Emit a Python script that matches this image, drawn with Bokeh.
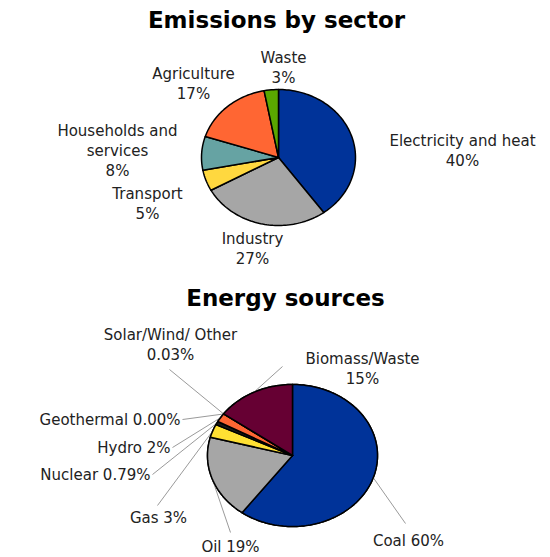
import numpy as np
from bokeh.plotting import figure
from bokeh.models import Range1d, ColumnDataSource
from bokeh.embed import file_html
from bokeh.resources import INLINE
from bokeh.core.properties import value

# ---------------- data ----------------
sectors = ["Electricity and heat", "Industry", "Transport",
           "Households and services", "Agriculture", "Waste"]
sector_values = [40, 27, 5, 8, 17, 3]
sector_colors = ["#003399", "#A6A6A6", "#FFD83F", "#66A3A3", "#FF6633", "#5AA800"]

sources = ["Coal", "Oil", "Gas", "Nuclear", "Hydro", "Geothermal",
           "Solar/Wind/ Other", "Biomass/Waste"]
source_values = [60, 19, 3, 0.79, 2, 0.00, 0.03, 15]
source_pct_labels = ["60%", "19%", "3%", "0.79%", "2%", "0.00%", "0.03%", "15%"]
source_colors = ["#003399", "#A6A6A6", "#FFE033", "#1A1A1A", "#FF6633",
                 "#FFFFFF", "#CCCCCC", "#660033"]

titles = ["Emissions by sector", "Energy sources"]

# ---------------- layout (pixels, y downward) ----------------
W, H = 550, 557
TOP = dict(cx=278, cy=157, rx=77, ry=68)
BOT = dict(cx=292, cy=455, rx=85, ry=71)

# label lines / positions for the top pie (centered text)
sector_label_lines = {
    "Electricity and heat": (["Electricity and heat"], 462, 140),
    "Industry": (["Industry"], 252, 238),
    "Transport": (["Transport"], 147, 193),
    "Households and services": (["Households and", "services"], 117, 130),
    "Agriculture": (["Agriculture"], 193, 73),
    "Waste": (["Waste"], 283, 57),
}
LINE_H = 20

# bottom pie label placement: (x, y, align, leader end x, leader end y, two_lines)
source_label_pos = {
    "Coal": (408, 540, "center", 405, 523, False),
    "Oil": (230, 546, "center", 230, 532, False),
    "Gas": (158, 517, "center", 157, 505, False),
    "Nuclear": (150, 474, "right", 152, 474, False),
    "Hydro": (170, 447, "right", 172, 447, False),
    "Geothermal": (180, 419, "right", 182, 419, False),
    "Solar/Wind/ Other": (170, 334, "center", 169, 369, True),
    "Biomass/Waste": (362, 358, "center", 282, 366, True),
}

FONT = "DejaVu Sans"
LABEL_SIZE = "15px"
LABEL_COLOR = "#222222"

p = figure(width=W, height=H, x_range=Range1d(0, W), y_range=Range1d(H, 0),
           output_backend="svg", toolbar_location=None, min_border=0)
p.axis.visible = False
p.grid.visible = False
p.outline_line_color = None
p.background_fill_color = "white"
p.border_fill_color = "white"


def pie(values, colors, geo):
    vals = np.asarray(values, dtype=float)
    total = vals.sum()
    ends = np.cumsum(vals) / total
    starts = ends - vals / total
    xs, ys, cs = [], [], []
    for a0, a1, c in zip(starts, ends, colors):
        if a1 - a0 <= 0:
            continue
        n = max(3, int((a1 - a0) * 240))
        t = np.linspace(a0, a1, n) * 2 * np.pi
        xs.append([geo["cx"]] + list(geo["cx"] + geo["rx"] * np.sin(t)))
        ys.append([geo["cy"]] + list(geo["cy"] - geo["ry"] * np.cos(t)))
        cs.append(c)
    src = ColumnDataSource(dict(xs=xs, ys=ys, color=cs))
    p.patches("xs", "ys", source=src, fill_color="color", line_color="black",
              line_width=1.5, line_join="round")
    return starts, ends


def label(x, y, txt, align="center", size=LABEL_SIZE, bold=False, color=LABEL_COLOR):
    p.text(x=[x], y=[y], text=[txt], text_align=align, text_baseline="middle",
           text_font=value(FONT), text_font_size=size,
           text_font_style="bold" if bold else "normal", text_color=color)


# titles
label(276, 19, titles[0], size="23px", bold=True, color="black")
label(285, 297, titles[1], size="23px", bold=True, color="black")

# top pie
pie(sector_values, sector_colors, TOP)
for name, v in zip(sectors, sector_values):
    lines, x, y = sector_label_lines[name]
    for i, ln in enumerate(lines + [f"{v}%"]):
        label(x, y + i * LINE_H, ln)

# bottom pie
starts, ends = pie(source_values, source_colors, BOT)
seg = dict(x0=[], y0=[], x1=[], y1=[])
for name, pct, a0, a1 in zip(sources, source_pct_labels, starts, ends):
    x, y, align, lx, ly, two = source_label_pos[name]
    mid = (a0 + a1) / 2 * 2 * np.pi
    px = BOT["cx"] + BOT["rx"] * np.sin(mid)
    py = BOT["cy"] - BOT["ry"] * np.cos(mid)
    seg["x0"].append(px); seg["y0"].append(py)
    seg["x1"].append(lx); seg["y1"].append(ly)
    if two:
        label(x, y, name, align)
        label(x, y + LINE_H, pct, align)
    else:
        label(x, y, f"{name} {pct}", align)
p.segment("x0", "y0", "x1", "y1", source=ColumnDataSource(seg),
          line_color="#9A9A9A", line_width=1)
# redraw bottom pie over leader starts
pie(source_values, source_colors, BOT)

open("out.html", "w").write(file_html(p, INLINE))
